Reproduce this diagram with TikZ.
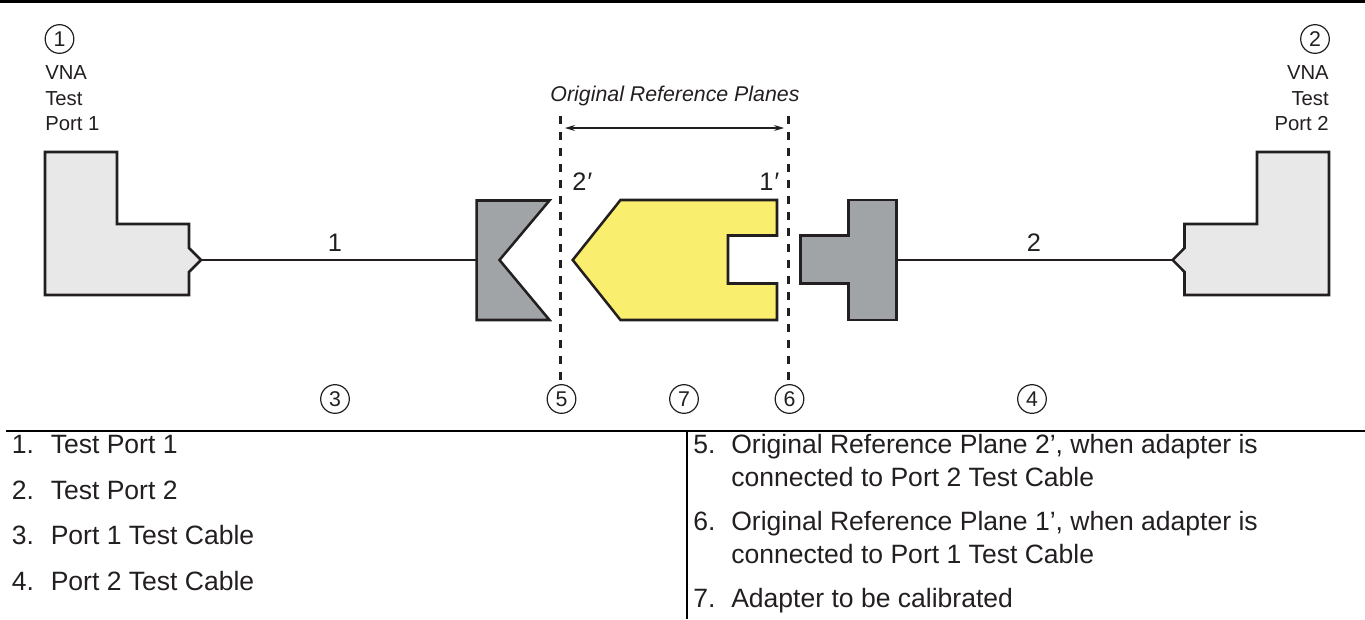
\documentclass[tikz,border=0pt]{standalone}
\usepackage{fontspec}
\usetikzlibrary{arrows.meta}
\setmainfont{Liberation Sans}
\definecolor{inkline}{HTML}{231F20}
\definecolor{portgray}{HTML}{E8E8E8}
\definecolor{plugray}{HTML}{A1A4A6}
\definecolor{adapteryellow}{HTML}{F9EE6D}
\tikzset{
    partline/.style={draw=inkline, line width=1.9pt, line join=miter},
    planeline/.style={draw=inkline, line width=1.9pt, dash pattern=on 5.8pt off 6.2pt, shorten >=2.5pt},
    callout/.style={circle, draw=inkline, line width=0.9pt, minimum size=21.5pt, inner sep=0pt, text=inkline, font=\fontsize{16}{16}\selectfont},
    smalltext/.style={text=inkline, inner sep=0pt, font=\fontsize{15.2}{15.2}\selectfont},
    bigtext/.style={text=inkline, inner sep=0pt, font=\fontsize{19}{19}\selectfont},
    listtext/.style={anchor=base west, text=inkline, inner sep=0pt, font=\fontsize{19.9}{19.9}\selectfont},
}
\begin{document}
\begin{tikzpicture}[x=0.75pt, y=-0.75pt, >={Stealth[length=7.5pt, width=4.5pt]}]
    \useasboundingbox (0,0) rectangle (1365,619);

    % rules
    \coordinate (topL) at (0,1.5);
    \coordinate (topR) at (1365,1.5);
    \coordinate (midL) at (6,431);
    \coordinate (midR) at (1365,431);
    \coordinate (midC) at (687,431);
    \coordinate (botC) at (687,619);
    \draw[black, line width=2.4pt] (topL) -- (topR);
    \draw[black, line width=1.3pt] (midL) -- (midR);
    \draw[black, line width=1.3pt] (midC) -- (botC);

    % cable ends
    \coordinate (tipL) at (201,260);
    \coordinate (tipR) at (1172.7,260);
    \coordinate (plugL) at (476.7,260);
    \coordinate (plugR) at (896.7,260);
    \draw[partline] (tipL) -- (plugL);
    \draw[partline] (plugR) -- (tipR);

    % test ports
    \draw[partline, fill=portgray] (45,152) -- (117,152) -- (117,224) -- (189,224) -- (189,248)
        -- (tipL) -- (189,272) -- (189,295) -- (45,295) -- cycle;
    \draw[partline, fill=portgray] (1329,152) -- (1257,152) -- (1257,224) -- (1184.5,224) -- (1184.5,248)
        -- (tipR) -- (1184.5,272) -- (1184.5,295) -- (1329,295) -- cycle;

    % connectors and adapter
    \draw[partline, fill=plugray] (plugL |- 0,200.5) -- (549.5,200.5) -- (499.5,260) -- (549.5,320) -- (plugL |- 0,320) -- cycle;
    \draw[partline, fill=plugray] (800.5,235.5) -- (848.5,235.5) -- (848.5,200) -- (plugR |- 0,200)
        -- (plugR |- 0,320) -- (848.5,320) -- (848.5,283.5) -- (800.5,283.5) -- cycle;
    \draw[partline, fill=adapteryellow] (572.7,260) -- (620.5,200) -- (777,200) -- (777,235.5) -- (728,235.5)
        -- (728,283.5) -- (777,283.5) -- (777,320) -- (620.5,320) -- cycle;

    % callouts
    \foreach \name/\x/\y in {1/59.5/39, 2/1315/39, 3/335/399, 4/1032/399, 5/561.5/399, 6/789.5/399, 7/684/399}
        \node[callout] (c\name) at (\x,\y) {\name};

    \node[smalltext, anchor=base west, align=left] (vna1) at (45,79) {VNA};
    \node[smalltext, anchor=base west] (test1) at (45,105) {Test};
    \node[smalltext, anchor=base west] (port1) at (45,130) {Port 1};
    \node[smalltext, anchor=base east] (vna2) at (1329,79) {VNA};
    \node[smalltext, anchor=base east] (test2) at (1329,105) {Test};
    \node[smalltext, anchor=base east] (port2) at (1329,130) {Port 2};

    % reference planes
    \coordinate (planeA) at (560.5,116);
    \coordinate (planeB) at (788.5,116);
    \coordinate (spanA) at (565,128);
    \coordinate (spanB) at (784,128);
    \draw[planeline] (planeA) -- (planeA |- c5.north);
    \draw[planeline] (planeB) -- (planeB |- c6.north);
    \draw[<->, inkline, line width=0.8pt] (spanA) -- (spanB);
    \node[smalltext, font=\fontsize{16}{16}\selectfont\itshape] (planes) at (675,96) {Original Reference Planes};

    \node[bigtext, anchor=base] (lab1) at (335,251) {1};
    \node[bigtext, anchor=base] (lab2) at (1034,251) {2};
    \node[bigtext, anchor=base west] (lab2p) at (572,190) {2\textit{′}};
    \node[bigtext, anchor=base west] (lab1p) at (759,190) {1\textit{′}};

    % list
    \foreach \n/\y/\txt in {1/453.5/Test Port 1, 2/499/Test Port 2, 3/544/Port 1 Test Cable, 4/590/Port 2 Test Cable} {
        \node[listtext] (num\n) at (11.5,\y) {\n.};
        \node[listtext] (item\n) at (50.5,\y) {\txt};
    }
    \node[listtext] (num5) at (693,453) {5.};
    \node[listtext] (item5) at (731,453) {Original Reference Plane 2’, when adapter is};
    \node[listtext] (item5b) at (731,486) {connected to Port 2 Test Cable};
    \node[listtext] (num6) at (693,530) {6.};
    \node[listtext] (item6) at (731,530) {Original Reference Plane 1’, when adapter is};
    \node[listtext] (item6b) at (731,563) {connected to Port 1 Test Cable};
    \node[listtext] (num7) at (693,607) {7.};
    \node[listtext] (item7) at (731,607) {Adapter to be calibrated};
\end{tikzpicture}
\end{document}
